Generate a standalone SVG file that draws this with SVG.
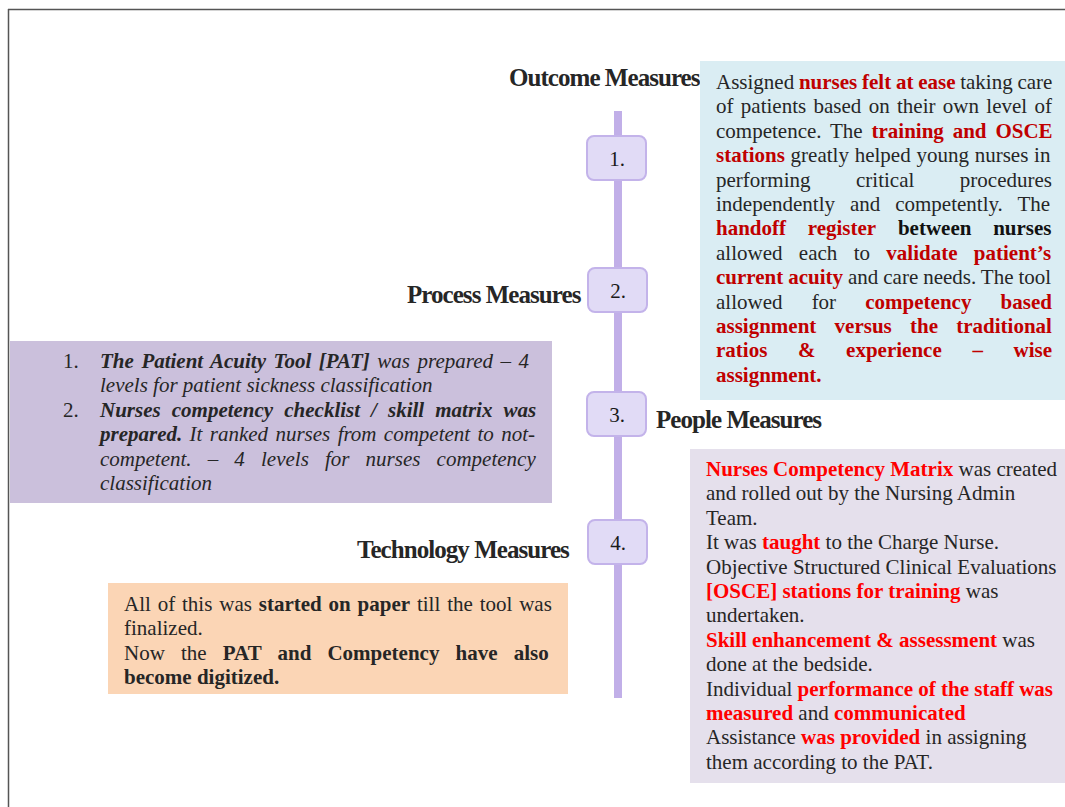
<svg xmlns="http://www.w3.org/2000/svg" width="1065" height="807" viewBox="0 0 1065 807">
<style>
.t{font-family:"Liberation Serif","Times New Roman",serif;font-size:21px;fill:#262626}
.b{font-weight:bold}
.i{font-style:italic}
.rd{fill:#c00000;font-weight:bold}
.rb{fill:#ff0000;font-weight:bold}
.blk{fill:#111;font-weight:bold}
.ttl{font-family:"Liberation Serif","Times New Roman",serif;font-size:25px;font-weight:bold;fill:#262626;letter-spacing:-0.95px}
.num{font-family:"Liberation Serif","Times New Roman",serif;font-size:21px;fill:#1a1a1a;text-anchor:middle}
.nbox{fill:#e1dbf6;stroke:#c3b3ea;stroke-width:2}
</style>
<rect width="1065" height="807" fill="#ffffff"/>
<g id="frame" stroke="#555" stroke-width="1.5" fill="none">
<line x1="8" y1="9.5" x2="1065" y2="9.5"/>
<line x1="8.5" y1="9" x2="8.5" y2="807"/>
</g>
<g id="connectors">
<rect x="614" y="111" width="8" height="587" fill="#c1afe8"/>
</g>
<g id="node-1"><rect class="nbox" x="587" y="136" width="59" height="44" rx="7"/><text class="num" x="617" y="166">1.</text></g>
<g id="node-2"><rect class="nbox" x="588" y="268" width="59" height="44" rx="7"/><text class="num" x="618" y="298">2.</text></g>
<g id="node-3"><rect class="nbox" x="587" y="392" width="59" height="44" rx="7"/><text class="num" x="617" y="422">3.</text></g>
<g id="node-4"><rect class="nbox" x="588" y="520" width="59" height="44" rx="7"/><text class="num" x="618" y="550">4.</text></g>
<g id="titles">
<text class="ttl" x="509" y="86">Outcome Measures</text>
<text class="ttl" x="407" y="303">Process Measures</text>
<text class="ttl" x="656" y="428">People Measures</text>
<text class="ttl" x="357" y="558">Technology Measures</text>
</g>
<g id="outcome-box">
<rect x="700" y="61" width="365" height="339" fill="#daedf3"/>
<text class="t" x="716" y="89" style="word-spacing:-0.5px">Assigned <tspan class="rd">nurses felt at ease</tspan> taking care</text>
<text class="t" x="716" y="113.4" style="word-spacing:2.1px">of patients based on their own level of</text>
<text class="t" x="716" y="137.8" style="word-spacing:3.6px">competence. The <tspan class="rd">training and OSCE</tspan></text>
<text class="t" x="716" y="162.2" style="word-spacing:0.5px"><tspan class="rd">stations</tspan> greatly helped young nurses in</text>
<text class="t" x="716" y="186.6" style="word-spacing:40.3px">performing critical procedures</text>
<text class="t" x="716" y="211" style="word-spacing:9.7px">independently and competently. The</text>
<text class="t" x="716" y="235.4" style="word-spacing:16.5px"><tspan class="rd">handoff register</tspan> <tspan class="blk">between nurses</tspan></text>
<text class="t" x="716" y="259.8" style="word-spacing:11.1px">allowed each to <tspan class="rd">validate patient’s</tspan></text>
<text class="t" x="716" y="284.2" style="word-spacing:-0.3px"><tspan class="rd">current acuity</tspan> and care needs. The tool</text>
<text class="t" x="716" y="308.6" style="word-spacing:23.9px">allowed for <tspan class="rd">competency based</tspan></text>
<text class="t rd" x="716" y="333" style="word-spacing:13px">assignment versus the traditional</text>
<text class="t rd" x="716" y="357.4" style="word-spacing:25.4px">ratios &amp; experience – wise</text>
<text class="t rd" x="716" y="381.8">assignment.</text>
</g>
<g id="process-box">
<rect x="10" y="341" width="542" height="162" fill="#cbc0dc"/>
<text class="t" x="63" y="368">1.</text>
<text class="t i" x="100" y="368" style="word-spacing:2.3px"><tspan class="b">The Patient Acuity Tool [PAT]</tspan> was prepared – 4</text>
<text class="t i" x="100" y="392.4">levels for patient sickness classification</text>
<text class="t" x="63" y="416.8">2.</text>
<text class="t i b" x="100" y="416.8" style="word-spacing:5.8px">Nurses competency checklist / skill matrix was</text>
<text class="t i" x="100" y="441.2" style="word-spacing:2.1px"><tspan class="b">prepared.</tspan> It ranked nurses from competent to not-</text>
<text class="t i" x="100" y="465.6" style="word-spacing:10.9px">competent. – 4 levels for nurses competency</text>
<text class="t i" x="100" y="490">classification</text>
</g>
<g id="people-box">
<rect x="690" y="449" width="375" height="334" fill="#e5e0ec"/>
<text class="t" x="706" y="476"><tspan class="rb">Nurses Competency Matrix</tspan> was created</text>
<text class="t" x="706" y="500.4">and rolled out by the Nursing Admin</text>
<text class="t" x="706" y="524.8">Team.</text>
<text class="t" x="706" y="549.2">It was <tspan class="rb">taught</tspan> to the Charge Nurse.</text>
<text class="t" x="706" y="573.6">Objective Structured Clinical Evaluations</text>
<text class="t" x="706" y="598"><tspan class="rb">[OSCE] stations for training</tspan> was</text>
<text class="t" x="706" y="622.4">undertaken.</text>
<text class="t" x="706" y="646.8"><tspan class="rb">Skill enhancement &amp; assessment</tspan> was</text>
<text class="t" x="706" y="671.2">done at the bedside.</text>
<text class="t" x="706" y="695.6">Individual <tspan class="rb">performance of the staff was</tspan></text>
<text class="t" x="706" y="720"><tspan class="rb">measured</tspan> and <tspan class="rb">communicated</tspan></text>
<text class="t" x="706" y="744.4">Assistance <tspan class="rb">was provided</tspan> in assigning</text>
<text class="t" x="706" y="768.8">them according to the PAT.</text>
</g>
<g id="technology-box">
<rect x="108" y="583" width="460" height="111" fill="#fbd5b5"/>
<text class="t" x="124" y="611" style="word-spacing:1.6px">All of this was <tspan class="b">started on paper</tspan> till the tool was</text>
<text class="t" x="124" y="635.4">finalized.</text>
<text class="t" x="124" y="659.8" style="word-spacing:10.9px">Now the <tspan class="b">PAT and Competency have also</tspan></text>
<text class="t b" x="124" y="684.2">become digitized.</text>
</g>
</svg>
